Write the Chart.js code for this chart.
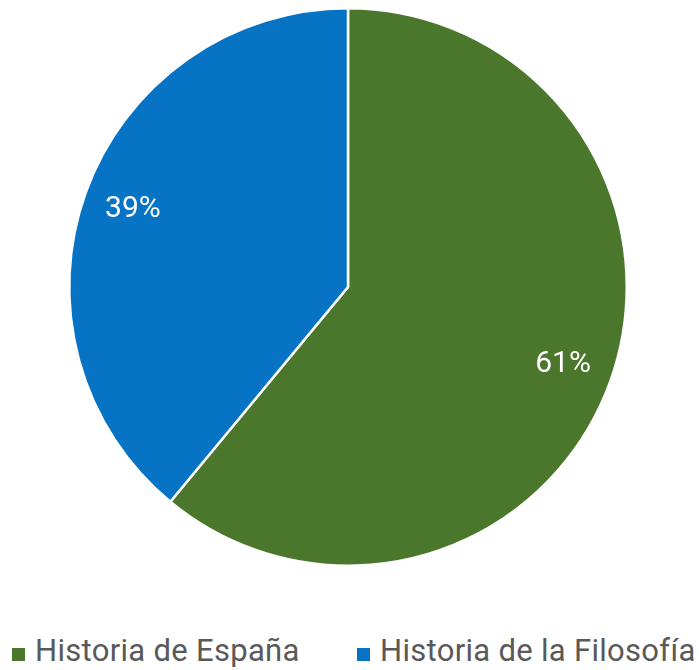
<!DOCTYPE html>
<html>
<head>
<meta charset="utf-8">
<script src="https://cdn.jsdelivr.net/npm/chart.js@4"></script>
<style>
  html, body { margin: 0; padding: 0; background: #fff; }
  #wrap { position: relative; width: 699px; height: 670px; }
  #chartBox { position: absolute; left: 0; top: 0; width: 699px; height: 574px; }
  #legend { position: absolute; top: 636px; left: 0; width: 699px; font: 31px Roboto, sans-serif; letter-spacing: 0.3px; line-height: 30px; color: #595959; }
  .legend-item { position: absolute; top: 0; white-space: nowrap; }
  .legend-dot { position: absolute; top: 12px; width: 13px; height: 13px; }
</style>
</head>
<body>
<div id="wrap">
  <div id="chartBox"><canvas id="pieChart"></canvas></div>
  <div id="legend"></div>
</div>
<script>
// ── DATA ─────────────────────────────────────────────────────────────
const labels = ['Historia de España', 'Historia de la Filosofía'];
const values = [61, 39];
const colors = ['#4a772b', '#0673c5'];
const legendX = [12, 357];

// percentage labels inside slices
const sliceLabels = {
  id: 'sliceLabels',
  afterDatasetsDraw(chart) {
    const { ctx } = chart;
    const meta = chart.getDatasetMeta(0);
    const total = values.reduce((a, b) => a + b, 0);
    ctx.save();
    ctx.fillStyle = '#fff';
    ctx.font = '30px Roboto, sans-serif';
    ctx.textAlign = 'center';
    ctx.textBaseline = 'middle';
    meta.data.forEach((arc, i) => {
      const mid = (arc.startAngle + arc.endAngle) / 2;
      const r = arc.outerRadius * 0.82;
      const x = arc.x + Math.cos(mid) * r;
      const y = arc.y + Math.sin(mid) * r;
      ctx.fillText(Math.round(values[i] / total * 100) + '%', x, y);
    });
    ctx.restore();
  }
};

new Chart(document.getElementById('pieChart'), {
  type: 'pie',
  data: {
    labels,
    datasets: [{ data: values, backgroundColor: colors, borderColor: '#fff', borderWidth: 2.5 }]
  },
  options: {
    responsive: true, maintainAspectRatio: false, animation: false,
    layout: { padding: { top: 7, bottom: 7, right: 3 } },
    plugins: { legend: { display: false }, tooltip: { enabled: false } }
  },
  plugins: [sliceLabels]
});

// build legend
const leg = document.getElementById('legend');
leg.innerHTML = labels.map((l, i) =>
  `<div class="legend-item" style="left:${legendX[i]}px"><div class="legend-dot" style="left:0;background:${colors[i]}"></div><span style="margin-left:23px">${l}</span></div>`
).join('');
</script>
</body>
</html>
